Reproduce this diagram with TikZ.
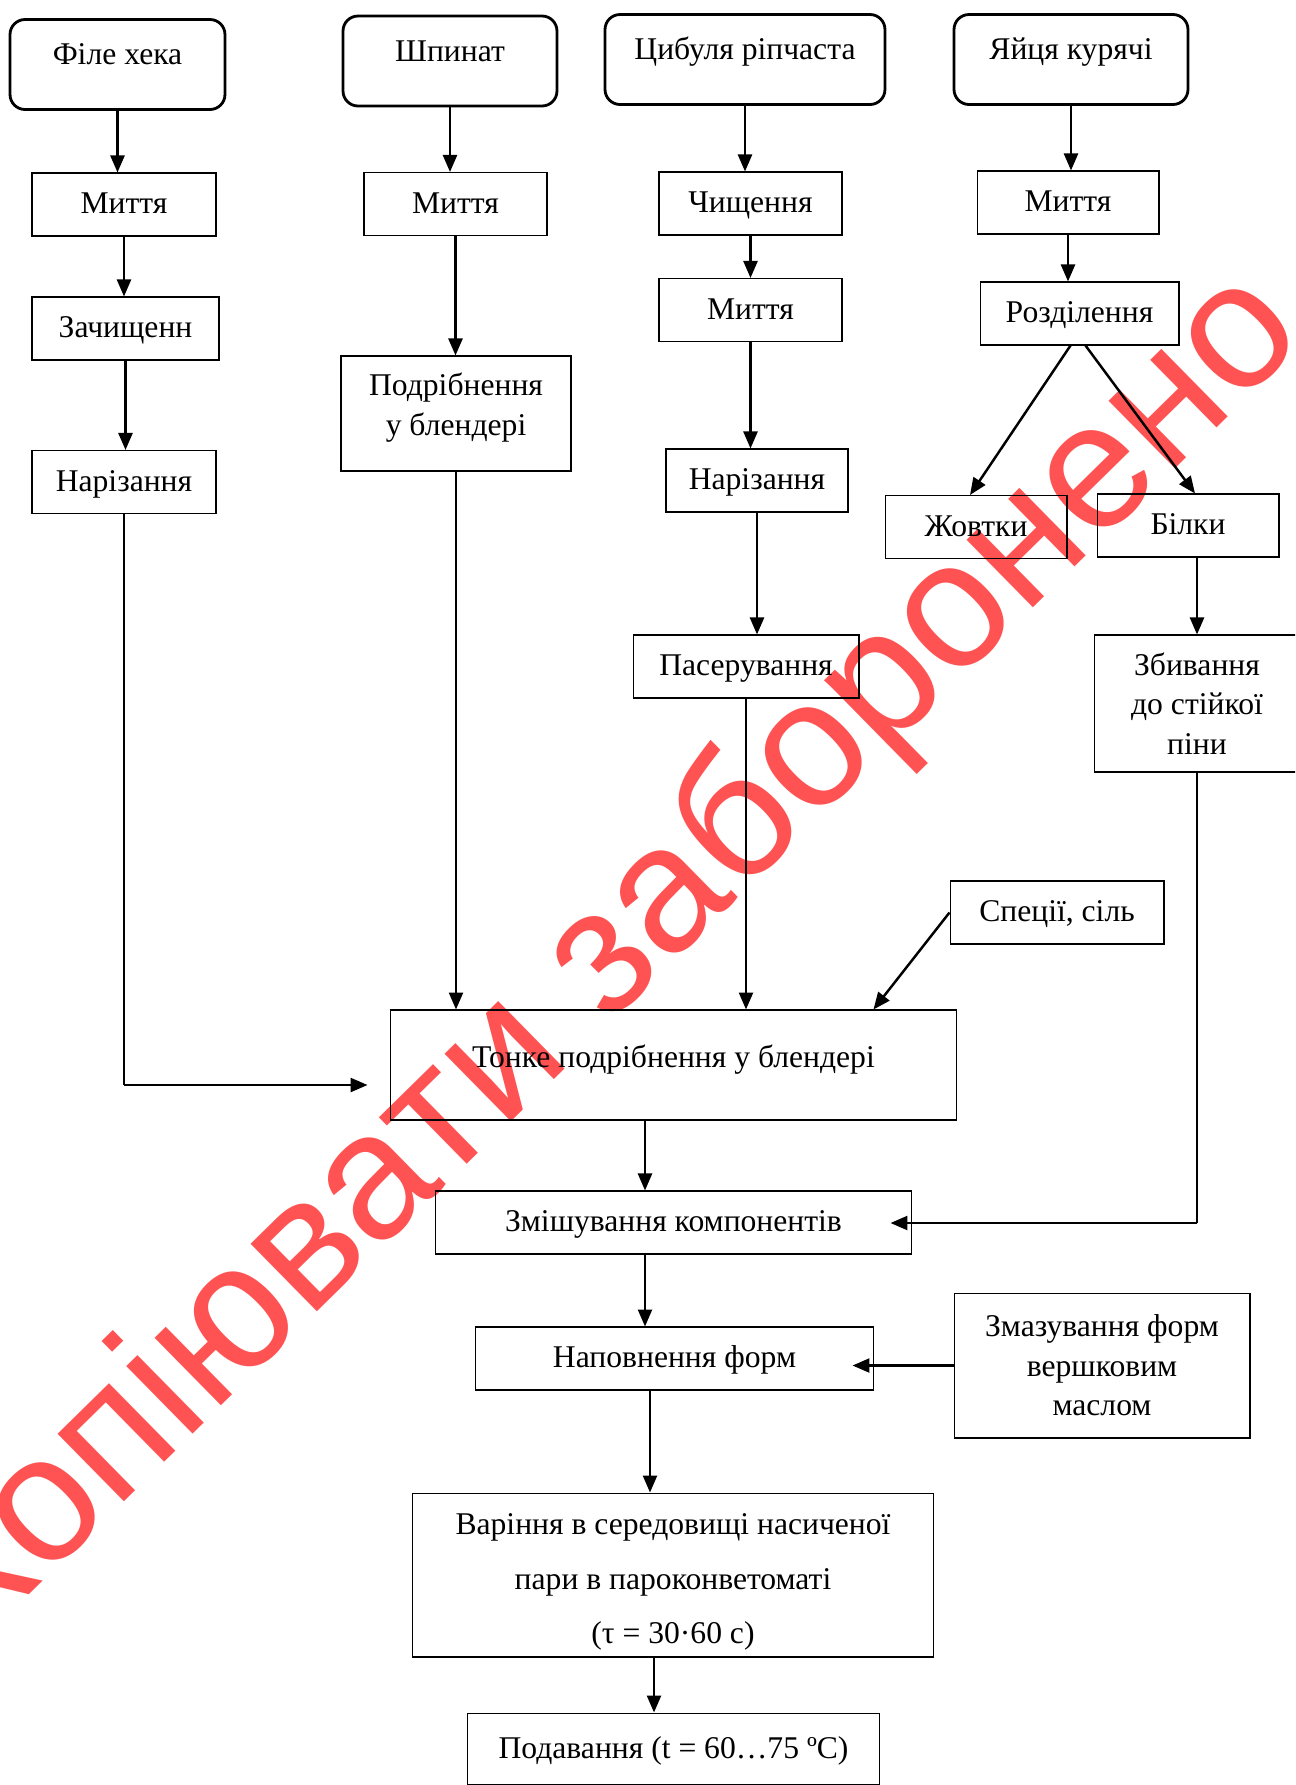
\documentclass[tikz,border=0pt]{standalone}
\usepackage{fontspec}
\setmainfont{Liberation Serif}
\newfontfamily\stampfont{Liberation Sans}
\usetikzlibrary{arrows.meta}
\definecolor{stampred}{RGB}{255,64,64}

\begin{document}
\begin{tikzpicture}[
  x=0.02cm, y=-0.02cm,
  font=\fontsize{18}{22.5}\selectfont,
  base/.style={rectangle, draw, line width=0.6pt, inner sep=0.1cm},
  start/.style={base, rounded corners=0.3cm, line width=1.6pt, minimum height=1.8cm, text height=0.8cm, text depth=0.8cm},
  stepbox/.style={base, minimum height=1.26cm, text height=0.5cm, text depth=0.14cm},
  multibox/.style={base, align=center},
  arrow/.style={-{Triangle[length=0.34cm, width=0.28cm]}, line width=1.4pt},
  feed/.style={line width=0.6pt},
  stamp/.style={font=\stampfont\fontsize{102}{106}\selectfont, text=stampred, text opacity=0.9}
]
\useasboundingbox (0,0) rectangle (1295,1785);
\clip (0,0) rectangle (1295,1785);

% Watermark
\node[stamp, rotate=44.5] (wmark) at (606,962) {Копіювати заборонено};

% Raw materials
\node[start, minimum width=4.3cm] (fillet) at (117.5,64.5) {Філе хека};
\node[start, minimum width=4.28cm] (spinach) at (450,61) {Шпинат};
\node[start, minimum width=5.6cm] (onion) at (745,59.5) {Цибуля ріпчаста};
\node[start, minimum width=4.68cm] (eggs) at (1071,59.5) {Яйця курячі};

% Fish column
\node[stepbox, minimum width=3.68cm] (wash1) at (124,204.5) {Миття};
\node[stepbox, minimum width=3.74cm] (trim1) at (125.5,328.5) {Зачищенн};
\node[stepbox, minimum width=3.68cm] (cut1) at (124,482) {Нарізання};

% Spinach column
\node[stepbox, minimum width=3.66cm] (wash2) at (455.5,204) {Миття};
\node[multibox, minimum width=4.6cm, minimum height=2.3cm] (grind) at (456,413.5) {Подрібнення\\у блендері\rule[-0.37cm]{0pt}{0.1cm}};

% Onion column
\node[stepbox, minimum width=3.66cm] (peel) at (750.5,203.5) {Чищення};
\node[stepbox, minimum width=3.66cm] (wash3) at (750.5,310) {Миття};
\node[stepbox, minimum width=3.64cm] (cut3) at (757,480.5) {Нарізання};
\node[stepbox, minimum width=4.52cm] (saute) at (746,666.5) {Пасерування};

% Egg column
\node[stepbox, minimum width=3.64cm] (wash4) at (1068,202.5) {Миття};
\node[stepbox, minimum width=3.98cm] (split) at (1079.5,313.5) {Розділення};
\node[stepbox, minimum width=3.64cm] (yolks) at (976,527) {Жовтки};
\node[stepbox, minimum width=3.64cm] (whites) at (1188,525.5) {Білки};
\node[multibox, minimum width=4.12cm, minimum height=2.74cm] (whip) at (1197,703.5) {Збивання\\до стійкої\\піни};

% Main line
\node[stepbox, minimum width=4.28cm] (spices) at (1057,912.5) {Спеції, сіль};
\node[stepbox, minimum width=11.34cm, minimum height=2.2cm, text depth=0.42cm] (blend) at (673.5,1065) {Тонке подрібнення у блендері};
\node[stepbox, minimum width=9.54cm] (mix) at (673.5,1222.5) {Змішування компонентів};
\node[stepbox, minimum width=7.98cm] (pour) at (674.5,1358.5) {Наповнення форм};
\node[multibox, minimum width=5.92cm, minimum height=2.9cm] (grease) at (1102,1365.5) {Змазування форм\\вершковим\\маслом};
\node[multibox, minimum width=10.44cm, minimum height=3.28cm, font=\fontsize{18}{31}\selectfont] (steam) at (673,1575) {\rule{0pt}{0.7cm}Варіння в середовищі насиченої\\пари в пароконветоматі\\(τ = 30·60 с)};
\node[stepbox, minimum width=8.26cm, minimum height=1.44cm] (serve) at (673.5,1749) {Подавання (t = 60…75 ºC)};

% Arrows
\draw[arrow] (fillet.south) -- (fillet.south |- wash1.north);
\draw[arrow] (wash1.south) -- (wash1.south |- trim1.north);
\draw[arrow] (trim1.south) -- (trim1.south |- cut1.north);
\coordinate (fishturn) at (124,1085);
\draw[feed] (cut1.south) -- (fishturn);
\draw[arrow, shorten >=0.44cm] (fishturn) -- (fishturn -| blend.west);

\draw[arrow] (spinach.south) -- (spinach.south |- wash2.north);
\draw[arrow] (wash2.south) -- (wash2.south |- grind.north);
\draw[arrow] (grind.south) -- (grind.south |- blend.north);

\draw[arrow] (onion.south) -- (onion.south |- peel.north);
\draw[arrow] (peel.south) -- (peel.south |- wash3.north);
\draw[arrow] (wash3.south) -- (wash3.south |- cut3.north);
\draw[arrow] (cut3.south) -- (cut3.south |- saute.north);
\draw[arrow] (saute.south) -- (saute.south |- blend.north);

\draw[arrow] (eggs.south) -- (eggs.south |- wash4.north);
\draw[arrow] (wash4.south) -- (wash4.south |- split.north);
\draw[arrow] ([xshift=-0.18cm]split.south) -- ([xshift=-0.12cm]yolks.north);
\draw[arrow] ([xshift=0.12cm]split.south) -- ([xshift=0.14cm]whites.north);
\draw[arrow] (whip.north |- whites.south) -- (whip.north);
\coordinate (eggturn) at (1197,1223);
\draw[feed] (whip.south) -- (eggturn);
\draw[arrow, shorten >=-0.44cm] (eggturn) -- (eggturn -| mix.east);

\draw[arrow] (spices.west) -- ([xshift=4cm]blend.north);
\draw[arrow] ([xshift=-0.57cm]blend.south) -- ([xshift=-0.57cm]blend.south |- mix.north);
\draw[arrow] ([xshift=-0.57cm]mix.south) -- ([xshift=-0.57cm]mix.south |- pour.north);
\draw[arrow, shorten >=-0.44cm] (grease.west) -- (grease.west -| pour.east);
\draw[arrow] ([xshift=-0.49cm]pour.south) -- ([xshift=-0.49cm]pour.south |- steam.north);
\draw[arrow] ([xshift=-0.38cm]steam.south) -- ([xshift=-0.38cm]steam.south |- serve.north);

\end{tikzpicture}
\end{document}
